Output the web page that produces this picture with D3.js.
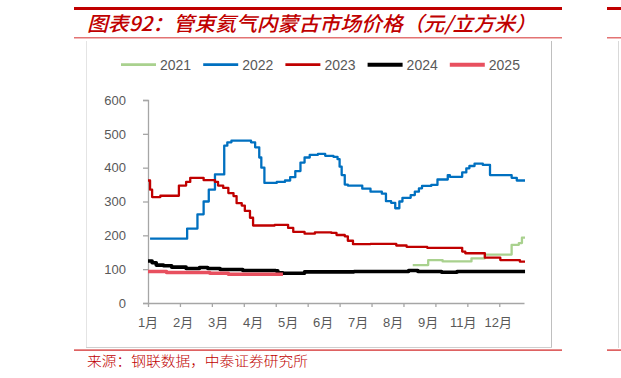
<!DOCTYPE html>
<html><head><meta charset="utf-8">
<script src="https://cdn.jsdelivr.net/npm/d3@7"></script>
<style>
html,body{margin:0;padding:0;background:#fff;overflow:hidden}
svg{display:block}
</style></head>
<body>
<svg id="c" width="621" height="378"></svg>
<script>
// ---- data (day of year, price 元/立方米), step series ----
const titleText = "图表92：管束氦气内蒙古市场价格（元/立方米）";
const sourceText = "来源：钢联数据，中泰证券研究所";
const seriesNames = ["2021","2022","2023","2024","2025"];
const seriesColors = ["#A9D18E","#0070C0","#C00000","#000000","#E8505F"];
const seriesWidths = [2.3,2.3,2.3,3.6,3.6];
const yTicks = [0,100,200,300,400,500,600];
const xTickDays = [0,31,62,93,124,155,186,217,248,279,310,341];
const xLabels = ["1月","2月","3月","4月","5月","6月","7月","8月","9月","11月","12月"];
const xLabelDays = [0,34,68,102,136,170,204,238,272,306,340];

const s2021 = [[257,112],[272,127],[286,123],[314,132],[327,143],[353,172],[360,177],[363,193],[366,193]];
const s2022 = [[2,190],[38,220],[48,262],[54,300],[59,335],[65,380],[74,465],[77,475],[81,480],[100,475],[104,460],[108,430],[110,400],[113,355],[125,358],[133,362],[138,372],[143,390],[148,415],[152,430],[157,438],[165,441],[172,435],[180,432],[184,425],[186,403],[188,378],[191,350],[194,347],[208,338],[216,329],[227,323],[231,301],[236,296],[240,280],[244,300],[247,311],[255,319],[259,329],[263,339],[266,346],[275,349],[281,365],[291,378],[293,373],[305,386],[309,398],[312,405],[317,412],[325,408],[332,378],[353,370],[358,362],[366,362]];
const s2023 = [[0,362],[2,335],[4,313],[12,317],[30,347],[37,358],[41,370],[54,363],[65,358],[68,347],[73,340],[78,325],[83,316],[86,295],[91,288],[94,272],[99,252],[102,229],[123,231],[136,222],[141,210],[152,205],[162,209],[178,207],[183,201],[191,197],[194,184],[199,174],[216,175],[241,170],[251,166],[271,163],[305,152],[308,147],[327,134],[342,127],[361,122],[366,122]];
const s2024 = [[0,124],[4,119],[8,112],[15,110],[23,106],[37,102],[50,105],[58,102],[70,99],[92,96],[124,95],[126,89],[131,88],[152,92],[200,93],[253,96],[262,93],[285,91],[300,93],[366,93]];
const s2025 = [[0,93],[18,90],[60,88],[78,85],[131,85]];
const allSeries = [s2021,s2022,s2023,s2024,s2025];

// ---- drawing ----
const svg = d3.select("#c");
const red = "#C00000";
const grey = "#595959";
const axisCol = "#A6A6A6";

// frame decoration
svg.append("rect").attr("x",74).attr("y",7).attr("width",488).attr("height",3).attr("fill",red);
svg.append("rect").attr("x",607).attr("y",7).attr("width",20).attr("height",3).attr("fill",red);
svg.append("rect").attr("x",74).attr("y",37).attr("width",488).attr("height",1.5).attr("fill","#E37373");
svg.append("rect").attr("x",607).attr("y",37).attr("width",20).attr("height",1.5).attr("fill","#E37373");
svg.append("line").attr("x1",86.5).attr("x2",86.5).attr("y1",41).attr("y2",348).attr("stroke","#E4E4E4");
svg.append("line").attr("x1",551.5).attr("x2",551.5).attr("y1",41).attr("y2",348).attr("stroke","#BFBFBF");
svg.append("line").attr("x1",86).attr("x2",552).attr("y1",347.5).attr("y2",347.5).attr("stroke","#CFCFCF");
svg.append("line").attr("x1",618.5).attr("x2",618.5).attr("y1",41).attr("y2",348).attr("stroke","#D9D9D9");
svg.append("rect").attr("x",74).attr("y",349.5).attr("width",488).attr("height",1.2).attr("fill","#D02020");
svg.append("rect").attr("x",607).attr("y",349.5).attr("width",20).attr("height",1.2).attr("fill","#D02020");

svg.append("text").attr("x",87).attr("y",31)
  .attr("font-family","'Noto Sans CJK SC',sans-serif").attr("font-size",20)
  .attr("font-style","italic").attr("font-weight",500).attr("fill",red)
  .attr("textLength",449).attr("lengthAdjust","spacingAndGlyphs").text(titleText);

svg.append("text").attr("x",87).attr("y",366)
  .attr("font-family","'Noto Sans CJK SC',sans-serif").attr("font-size",13.5)
  .attr("font-weight",300).attr("fill",red)
  .attr("textLength",221).attr("lengthAdjust","spacingAndGlyphs").text(sourceText);

// scales
const x = d3.scaleLinear().domain([0,365]).range([148,524]);
const y = d3.scaleLinear().domain([0,600]).range([303,100]);

// y axis
const yAxis = svg.append("g").attr("transform","translate(148,0)")
  .call(d3.axisLeft(y).tickValues(yTicks).tickSize(5).tickPadding(17));
yAxis.select(".domain").attr("stroke",axisCol).attr("stroke-width",1.3);
yAxis.selectAll(".tick line").attr("stroke",axisCol).attr("stroke-width",1.3);
yAxis.selectAll(".tick text").attr("fill",grey).attr("font-size",13)
  .attr("font-family","'Liberation Sans',Arial,sans-serif");

// x axis (ticks)
const xAxis = svg.append("g").attr("transform","translate(0,303)")
  .call(d3.axisBottom(x).tickValues(xTickDays).tickSize(4).tickSizeOuter(0).tickFormat(""));
xAxis.select(".domain").attr("stroke",axisCol).attr("stroke-width",1.3);
xAxis.selectAll(".tick line").attr("stroke",axisCol).attr("stroke-width",1.3);

// x labels
const lab = svg.append("g");
xLabels.forEach((t,i)=>{
  lab.append("text").attr("x",x(xLabelDays[i])).attr("y",327)
    .attr("text-anchor","middle").attr("fill",grey).attr("font-size",13)
    .attr("font-family","'Liberation Sans','Noto Sans CJK SC',sans-serif").text(t);
});

// lines
const line = d3.line().x(d=>x(d[0])).y(d=>y(d[1])).curve(d3.curveStepAfter);
[0,1,2,3,4].forEach(i=>{
  svg.append("path").datum(allSeries[i]).attr("d",line)
    .attr("fill","none").attr("stroke",seriesColors[i]).attr("stroke-width",seriesWidths[i])
    .attr("stroke-linejoin","round");
});

// legend
const leg = svg.append("g");
seriesNames.forEach((n,i)=>{
  const lx = 121 + i*82.2;
  leg.append("line").attr("x1",lx).attr("x2",lx+35).attr("y1",64.7).attr("y2",64.7)
    .attr("stroke",seriesColors[i]).attr("stroke-width",seriesWidths[i]+0.5);
  leg.append("text").attr("x",lx+39).attr("y",69.5).attr("fill",grey).attr("font-size",14)
    .attr("font-family","'Liberation Sans',Arial,sans-serif").text(n);
});
</script>
</body></html>
